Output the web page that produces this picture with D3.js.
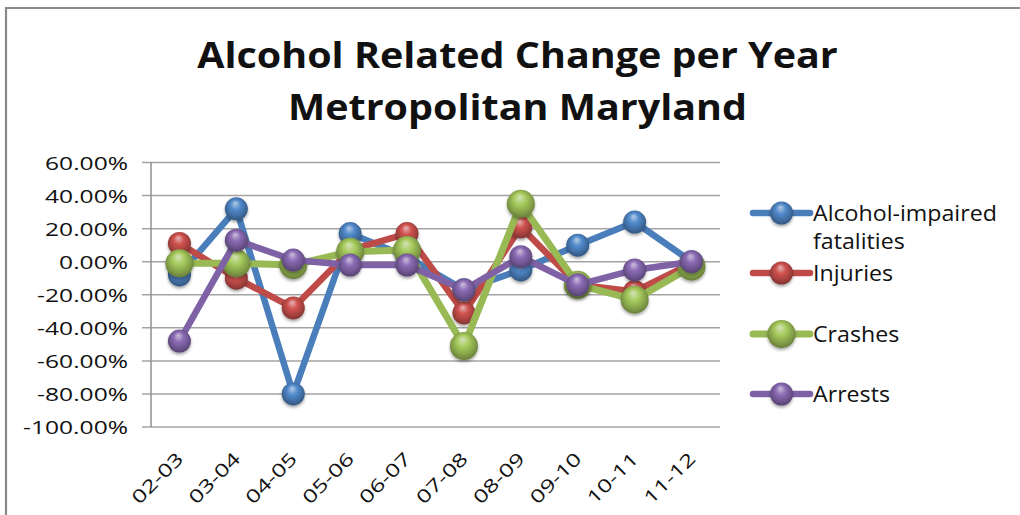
<!DOCTYPE html>
<html>
<head>
<meta charset="utf-8">
<script src="https://cdn.jsdelivr.net/npm/d3@7"></script>
<style>
  html, body { margin: 0; padding: 0; background: #fff; }
  svg { display: block; }
  text { font-family: "Open Sans", "Liberation Sans", sans-serif; fill: #111; }
</style>
</head>
<body>
<svg id="chart" width="1020" height="515"></svg>
<script>
// ---------------- data ----------------
const categories = ["02-03","03-04","04-05","05-06","06-07","07-08","08-09","09-10","10-11","11-12"];
const fatalities = [-8, 32, -80, 17, 3, -17, -5, 10, 24, 0];
const injuries   = [11, -10, -28, 7, 17, -31, 21, -14, -18, -1];
const crashes    = [-1, -1, -2, 6, 7, -51, 35, -14, -23, -3];
const arrests    = [-48, 13, 1, -2, -2, -17, 3, -14, -5, 0];
const seriesNames = ["Alcohol-impaired fatalities", "Injuries", "Crashes", "Arrests"];
const yTicks = [60, 40, 20, 0, -20, -40, -60, -80, -100];
const titleLines = ["Alcohol Related Change per Year", "Metropolitan Maryland"];

// ---------------- styles ----------------
const seriesValues = [fatalities, injuries, crashes, arrests];
const colors = ["#4A7EBB", "#BE4B48", "#98B954", "#7F62A6"];
const radii = [11.5, 11.5, 14, 11.5];
const widths = [6.5, 6.5, 7, 6.5];

const svg = d3.select("#chart");
const W = 1020, H = 515;
const plot = { left: 151, right: 720, top: 162.5, bottom: 427 };

// frame
svg.append("path")
  .attr("d", `M6,${H + 5} L6,8 L${W + 5},8`)
  .attr("fill", "none").attr("stroke", "#8a8a8a").attr("stroke-width", 2.2);

// gradients / filters
const defs = svg.append("defs");
colors.forEach((c, i) => {
  const g = defs.append("radialGradient").attr("id", "ball" + i)
    .attr("cx", "50%").attr("cy", "45%").attr("r", "55%")
    .attr("fx", "45%").attr("fy", "25%");
  const base = d3.color(c);
  g.append("stop").attr("offset", "0%").attr("stop-color", d3.interpolateRgb(c, "#ffffff")(0.6));
  g.append("stop").attr("offset", "40%").attr("stop-color", base.brighter(0.25).formatHex());
  g.append("stop").attr("offset", "80%").attr("stop-color", base.darker(0.5).formatHex());
  g.append("stop").attr("offset", "100%").attr("stop-color", base.darker(1.1).formatHex());
});
const f = defs.append("filter").attr("id", "shadow")
  .attr("x", "-50%").attr("y", "-50%").attr("width", "200%").attr("height", "200%");
f.append("feDropShadow").attr("dx", 0).attr("dy", 2).attr("stdDeviation", 1.5)
  .attr("flood-color", "#000").attr("flood-opacity", 0.35);

// scales
const x = d3.scalePoint().domain(categories).range([plot.left, plot.right]).padding(0.5);
const y = d3.scaleLinear().domain([-100, 60]).range([plot.bottom, plot.top]);

// gridlines
svg.append("g").selectAll("line").data(yTicks).join("line")
  .attr("x1", plot.left - 9).attr("x2", plot.right)
  .attr("y1", d => y(d)).attr("y2", d => y(d))
  .attr("stroke", "#a3a3a3").attr("stroke-width", 1.5);
// y axis line
svg.append("line")
  .attr("x1", plot.left).attr("x2", plot.left)
  .attr("y1", plot.top).attr("y2", plot.bottom)
  .attr("stroke", "#8f8f8f").attr("stroke-width", 1.5);

// y axis labels
const fmt = d3.formatLocale({ decimal: ".", thousands: ",", grouping: [3], currency: ["$", ""], minus: "-" }).format(".2%");
const yAxis = d3.axisLeft(y).tickValues(yTicks).tickFormat(d => fmt(d / 100)).tickSize(0);
const yg = svg.append("g").attr("transform", `translate(${plot.left},0)`).call(yAxis);
yg.select(".domain").remove();
const yTexts = yg.selectAll("text").attr("font-size", 18).attr("font-family", "Open Sans").attr("fill", "#111");
let yRef = yTexts.filter(d => d === -100).node();
const ySx = 105 / yRef.getComputedTextLength();
yTexts.attr("x", 0).attr("dy", null)
  .attr("transform", `translate(-23,6.5) scale(${ySx},1)`);

// x axis labels
const xg = svg.append("g");
const xTexts = xg.selectAll("text").data(categories).join("text")
  .attr("font-size", 18).attr("text-anchor", "end")
  .text(d => d);
const xSx = 64 / xTexts.node().getComputedTextLength();
xTexts.attr("transform", d => `translate(${x(d) + 5},460) rotate(-45) scale(${xSx},1)`);

// series
const lineGen = d3.line().x((d, i) => x(categories[i])).y(d => y(d));
seriesValues.forEach((vals, s) => {
  const g = svg.append("g");
  g.append("path").datum(vals).attr("d", lineGen)
    .attr("fill", "none").attr("stroke", colors[s]).attr("stroke-width", widths[s])
    .attr("stroke-linejoin", "round").attr("stroke-linecap", "round");
  g.selectAll("circle").data(vals).join("circle")
    .attr("cx", (d, i) => x(categories[i])).attr("cy", d => y(d))
    .attr("r", radii[s]).attr("fill", `url(#ball${s})`)
    .attr("filter", "url(#shadow)");
});

// legend
const legendRowY = [213, 273, 334, 394];
const lg = svg.append("g");
let legendTexts = [];
seriesNames.forEach((name, s) => {
  const ry = legendRowY[s];
  lg.append("line").attr("x1", 753).attr("x2", 810).attr("y1", ry).attr("y2", ry)
    .attr("stroke", colors[s]).attr("stroke-width", widths[s]).attr("stroke-linecap", "round");
  lg.append("circle").attr("cx", 781.5).attr("cy", ry).attr("r", radii[s])
    .attr("fill", `url(#ball${s})`).attr("filter", "url(#shadow)");
  const lines = name.length > 15 ? name.split(" ") : [name];
  lines.forEach((ln, k) => {
    const t = lg.append("text").attr("font-size", 21)
      .attr("data-y", ry + 7.5 + k * 28).text(ln);
    legendTexts.push(t);
  });
});
const lSx = 184 / legendTexts[0].node().getComputedTextLength();
legendTexts.forEach(t => t.attr("transform", `translate(813,${t.attr("data-y")}) scale(${lSx},1)`));

// title
const tt = titleLines.map((ln, k) => svg.append("text")
  .attr("font-size", 36).attr("font-weight", "bold").attr("text-anchor", "middle")
  .attr("fill", "#000").text(ln));
const tSx = 641 / tt[0].node().getComputedTextLength();
tt.forEach((t, k) => t.attr("transform", `translate(517.5,${68 + k * 52}) scale(${tSx},1)`));
</script>
</body>
</html>
